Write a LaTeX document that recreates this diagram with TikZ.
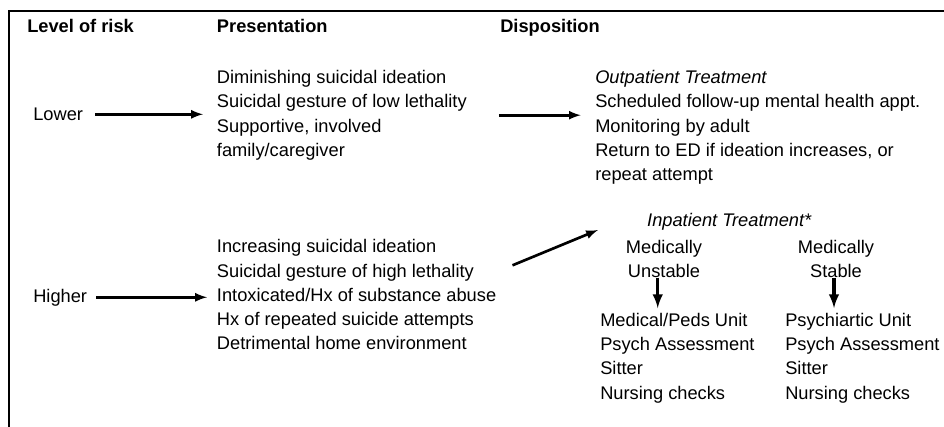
\documentclass[tikz,border=0pt]{standalone}
\usepackage{fontspec}
\setmainfont{Liberation Sans}
\usepackage{tikz}
\usetikzlibrary{arrows}
\tikzset{
    txt/.style={inner sep=0pt, font=\fontsize{13.7}{18.2}\selectfont},
    hdr/.style={txt, anchor=base west, font=\fontsize{13.7}{18.2}\selectfont\bfseries},
    lbl/.style={txt, anchor=base west},
    lst/.style={txt, anchor=north west, align=left},
    lnk/.style={->, line width=2pt},
    drp/.style={->, line width=2.5pt}
}

\begin{document}
\begin{tikzpicture}[x=0.75pt, y=-0.75pt, >=latex]
        \useasboundingbox (0,0) rectangle (944,426);
        \draw[line width=1.5pt, line join=miter] (946,11) -- (9,11) -- (9,428);

        \draw (27,32)  node[hdr](lvl){Level of risk};
        \draw (216.7,32) node[hdr](pres){Presentation};
        \draw (500,32) node[hdr](disp){Disposition};

        \draw (33,120.5) node[lbl](lo){Lower};
        \draw (33,302)   node[lbl](hi){Higher};

        \draw (216.7,70) node[lst](plo){Diminishing suicidal ideation\\
            Suicidal gesture of low lethality\\
            Supportive, involved\\
            family/caregiver};
        \draw (216.7,239.3) node[lst](phi){Increasing suicidal ideation\\
            Suicidal gesture of high lethality\\
            Intoxicated/Hx of substance abuse\\
            Hx of repeated suicide attempts\\
            Detrimental home environment};

        \draw (595,70) node[lst](out){\textit{Outpatient Treatment}\\
            Scheduled follow-up mental health appt.\\
            Monitoring by adult\\
            Return to ED if ideation increases, or\\
            repeat attempt};

        \draw (729.5,221.7) node[txt](inp){\textit{Inpatient Treatment*}};
        \draw (664,239.5) node[txt, anchor=north, align=center](mu){Medically\\Unstable};
        \draw (836,239.5) node[txt, anchor=north, align=center](ms){Medically\\Stable};

        \draw (600,312.7) node[lst](unl){Medical/Peds Unit\\
            Psych Assessment\\
            Sitter\\
            Nursing checks};
        \draw (785,312.7) node[lst](unr){Psychiartic Unit\\
            Psych Assessment\\
            Sitter\\
            Nursing checks};

        \draw[lnk, shorten <=9pt, shorten >=10.3pt] (lo.east) to (lo.east -| plo.west);
        \draw[lnk, shorten <=6.8pt, shorten >=7.3pt] (hi.east) to (hi.east -| phi.west);
        \draw[lnk, shorten <=23.8pt, shorten >=10.7pt] (plo.east) to (plo.east -| out.west);
        \draw[lnk] ([shift={(16,-29.5)}]phi.east) to ([shift={(-49,8.3)}]inp.west);

        \draw[drp, shorten >=3.5pt] ([xshift=-4.7pt]mu.south) to ([xshift=-4.7pt]mu.south |- unl.north);
        \draw[drp, shorten >=3.5pt] ([xshift=-1.5pt]ms.south) to ([xshift=-1.5pt]ms.south |- unr.north);
    \end{tikzpicture}
\end{document}
